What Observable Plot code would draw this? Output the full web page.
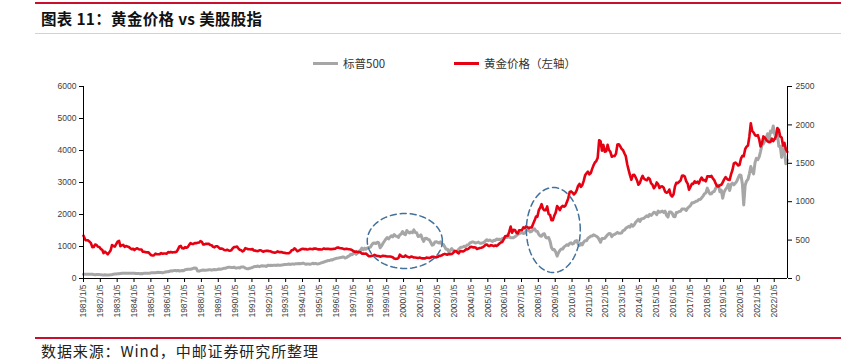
<!DOCTYPE html>
<html>
<head>
<meta charset="utf-8">
<script src="https://cdn.jsdelivr.net/npm/d3@7"></script>
<script src="https://cdn.jsdelivr.net/npm/@observablehq/plot@0.6"></script>
<style>
  html, body { margin: 0; padding: 0; background: #fff; }
  #wrap { position: relative; width: 841px; height: 363px; overflow: hidden; font-family: "Noto Sans CJK SC", "Noto Sans", sans-serif; }
  #chart { position: absolute; left: 0; top: 0; }
  .hline { position: absolute; left: 35px; right: 0; }
  #title { position: absolute; left: 41px; top: 8px; font-size: 15.5px; font-weight: bold; color: #111; line-height: 20px; white-space: nowrap; letter-spacing: 0.3px; }
  #source { position: absolute; left: 41px; top: 341px; font-size: 15px; color: #222; line-height: 20px; white-space: nowrap; letter-spacing: 0.9px; }
  .leg { position: absolute; top: 54px; font-size: 11.5px; color: #333; line-height: 18px; white-space: nowrap; display: flex; align-items: center; }
  .leg i { display: inline-block; width: 25px; height: 3px; margin-right: 5px; }
</style>
</head>
<body>
<div id="wrap">
  <div id="chart"></div>
  <div class="hline" style="top:2px;height:2px;background:#C8102E;"></div>
  <div id="title">图表 11：黄金价格 vs 美股股指</div>
  <div class="hline" style="top:33px;height:1px;background:#F2C4C4;"></div>
  <div class="leg" style="left:313px;"><i style="background:#A6A6A6"></i>标普500</div>
  <div class="leg" style="left:454px;"><i style="background:#E60012"></i>黄金价格（左轴）</div>
  <div class="hline" style="top:337px;height:2px;background:#C8102E;"></div>
  <div id="source">数据来源：Wind，中邮证券研究所整理</div>
</div>
<script>
// ---- data (monthly readings, 1981-01 .. 2022-10) ----
const years = d3.range(1981, 2023);

const spx = [
  [129.5,131.3,136.0,132.8,132.6,131.2,130.9,122.8,116.2,121.9,126.4,122.6],
  [120.4,113.1,111.9,116.4,111.9,109.6,107.1,119.5,120.4,133.7,138.5,140.6],
  [145.3,148.1,153.0,164.4,162.4,168.1,162.6,164.4,166.1,163.6,166.4,164.9],
  [163.4,157.1,159.2,160.1,150.6,153.2,150.7,166.7,166.1,166.1,163.6,167.2],
  [179.6,181.2,180.7,179.8,189.6,191.9,190.9,188.6,182.1,189.8,202.2,211.3],
  [211.8,226.9,238.9,235.5,247.4,250.8,236.1,252.9,231.3,244.0,249.2,242.2],
  [274.1,284.2,291.7,288.4,290.1,304.0,318.7,329.8,321.8,235.0,230.3,247.1],
  [257.1,267.8,258.9,261.3,262.2,273.5,272.0,261.5,271.9,279.0,273.7,277.7],
  [297.5,288.9,294.9,309.6,320.5,318.0,346.1,351.5,349.2,340.4,346.0,353.4],
  [329.1,331.9,339.9,330.8,361.2,358.0,356.2,322.6,306.1,304.0,322.2,330.2],
  [343.9,367.1,375.2,375.3,389.8,371.2,387.8,395.4,387.9,392.5,375.2,417.1],
  [408.8,412.7,403.7,415.0,415.4,408.1,424.2,414.0,417.8,418.7,431.4,435.7],
  [438.8,443.4,451.7,440.2,450.2,451.0,448.1,463.6,458.9,467.8,461.8,466.5],
  [481.6,467.1,445.8,450.9,456.5,444.3,458.3,475.5,462.7,472.4,453.7,459.3],
  [470.4,487.4,500.7,514.7,533.4,544.8,562.1,561.9,584.4,581.5,605.4,615.9],
  [636.0,640.4,645.5,654.2,669.1,670.6,640.0,652.0,687.3,705.3,757.0,740.7],
  [786.2,790.8,757.1,801.3,848.3,885.1,954.3,899.5,947.3,914.6,955.4,970.4],
  [980.3,1049.3,1101.8,1111.8,1090.8,1133.8,1120.7,957.3,1017.0,1098.7,1163.6,1229.2],
  [1279.6,1238.3,1286.4,1335.2,1301.8,1372.7,1328.7,1320.4,1282.7,1362.9,1388.9,1469.3],
  [1394.5,1366.4,1498.6,1452.4,1420.6,1454.6,1430.8,1517.7,1436.5,1429.4,1315.2,1320.3],
  [1366.0,1239.9,1160.3,1249.5,1255.8,1224.4,1211.2,1133.6,1040.9,1059.8,1139.5,1148.1],
  [1130.2,1106.7,1147.4,1076.9,1067.1,989.8,911.6,916.1,815.3,885.8,936.3,879.8],
  [855.7,841.2,848.2,916.9,963.6,974.5,990.3,1008.0,996.0,1050.7,1058.2,1111.9],
  [1131.1,1144.9,1126.2,1107.3,1120.7,1140.8,1101.7,1104.2,1114.6,1130.2,1173.8,1211.9],
  [1181.3,1203.6,1180.6,1156.9,1191.5,1191.3,1234.2,1220.3,1228.8,1207.0,1249.5,1248.3],
  [1280.1,1280.7,1294.9,1310.6,1270.1,1270.2,1276.7,1303.8,1335.9,1377.9,1400.6,1418.3],
  [1438.2,1406.8,1420.9,1482.4,1530.6,1503.4,1455.3,1474.0,1526.8,1549.4,1481.1,1468.4],
  [1378.6,1330.6,1322.7,1385.6,1400.4,1280.0,1267.4,1282.8,1166.4,968.8,896.2,903.3],
  [825.9,700.0,797.9,872.8,919.1,919.3,987.5,1020.6,1057.1,1036.2,1095.6,1115.1],
  [1073.9,1104.5,1169.4,1186.7,1089.4,1030.7,1101.6,1049.3,1141.2,1183.3,1180.6,1257.6],
  [1286.1,1327.2,1325.8,1363.6,1345.2,1320.6,1292.3,1218.9,1131.4,1253.3,1247.0,1257.6],
  [1312.4,1365.7,1408.5,1397.9,1310.3,1362.2,1379.3,1406.6,1440.7,1412.2,1416.2,1426.2],
  [1498.1,1514.7,1569.2,1597.6,1630.7,1606.3,1685.7,1633.0,1681.6,1756.5,1805.8,1848.4],
  [1782.6,1859.5,1872.3,1884.0,1923.6,1960.2,1930.7,2003.4,1972.3,2018.1,2067.6,2058.9],
  [1995.0,2104.5,2067.9,2085.5,2107.4,2063.1,2103.8,1972.2,1920.0,2079.4,2080.4,2043.9],
  [1940.2,1932.2,2059.7,2065.3,2097.0,2098.9,2173.6,2171.0,2168.3,2126.2,2198.8,2238.8],
  [2278.9,2363.6,2362.7,2384.2,2411.8,2423.4,2470.3,2471.7,2519.4,2575.3,2647.6,2673.6],
  [2823.8,2713.8,2640.9,2648.1,2705.3,2718.4,2816.3,2901.5,2914.0,2711.7,2760.2,2506.9],
  [2704.1,2784.5,2834.4,2945.8,2752.1,2941.8,2980.4,2926.5,2976.7,3037.6,3141.0,3230.8],
  [3225.5,2954.2,2300.0,2912.4,3044.3,3100.3,3271.1,3500.3,3363.0,3270.0,3621.6,3756.1],
  [3714.2,3811.2,3972.9,4181.2,4204.1,4297.5,4395.3,4522.7,4307.5,4605.4,4567.0,4766.2],
  [4515.6,4373.9,4530.4,4131.9,4132.2,3785.4,4130.3,3955.0,3585.6,3700.0]
];

const gold = [
  [557,500,499,496,480,460,409,410,443,437,413,410],
  [384,374,330,350,334,315,339,365,435,422,415,447],
  [481,491,420,432,438,413,423,416,411,394,381,388],
  [370,386,394,381,377,378,348,348,341,340,341,320],
  [303,299,304,324,316,316,317,330,323,326,325,322],
  [345,339,346,340,342,343,349,377,418,424,393,391],
  [408,401,409,438,460,450,450,461,460,465,468,487],
  [477,442,444,452,451,451,437,433,413,406,420,419],
  [404,388,390,384,371,367,375,365,362,367,394,409],
  [410,416,393,374,369,352,362,395,389,381,381,378],
  [384,364,363,358,357,367,368,356,349,358,360,361],
  [354,354,344,338,337,341,353,343,345,344,335,334],
  [329,329,330,342,367,372,392,378,355,364,374,383],
  [387,382,384,377,381,386,385,381,391,389,384,379],
  [379,377,382,391,385,387,386,383,383,383,386,387],
  [400,405,396,393,392,385,383,387,383,381,378,369],
  [355,346,352,344,344,341,324,324,323,325,306,289],
  [289,297,296,308,299,292,293,284,289,296,294,291],
  [287,287,286,282,277,261,256,257,265,311,293,283],
  [284,300,286,280,275,286,282,274,273,270,266,272],
  [266,262,263,261,272,270,268,273,283,283,276,275],
  [282,296,294,302,314,321,314,310,319,317,319,333],
  [357,359,340,328,355,356,351,360,379,379,389,407],
  [414,405,406,404,384,392,398,400,406,420,439,442],
  [424,424,434,429,422,431,424,437,456,470,476,510],
  [549,555,557,610,676,596,633,632,598,586,627,629],
  [631,665,655,679,667,655,665,665,712,754,806,803],
  [889,922,968,909,888,889,939,839,829,760,760,816],
  [858,943,924,890,928,946,934,949,996,1043,1127,1134],
  [1118,1095,1113,1148,1205,1232,1193,1215,1271,1343,1370,1391],
  [1356,1372,1424,1473,1510,1529,1572,1800,1790,1665,1739,1652],
  [1656,1742,1673,1650,1585,1596,1594,1626,1744,1747,1721,1688],
  [1671,1627,1593,1487,1414,1343,1286,1347,1349,1316,1275,1221],
  [1244,1300,1336,1299,1287,1279,1311,1296,1239,1222,1176,1200],
  [1251,1227,1178,1198,1199,1181,1131,1117,1125,1159,1086,1068],
  [1097,1200,1246,1242,1260,1276,1337,1340,1326,1266,1236,1157],
  [1192,1234,1231,1266,1246,1260,1236,1283,1315,1280,1283,1265],
  [1331,1331,1325,1335,1303,1282,1238,1202,1198,1215,1221,1250],
  [1291,1320,1300,1285,1283,1359,1413,1500,1510,1495,1471,1480],
  [1560,1598,1592,1683,1716,1732,1846,2020,1921,1901,1866,1858],
  [1867,1808,1718,1760,1850,1834,1807,1785,1775,1777,1821,1790],
  [1817,1855,1960,1937,1849,1836,1732,1765,1681,1650]
];

// axis tick values
const spxTicks = [0, 1000, 2000, 3000, 4000, 5000, 6000];
const goldTicks = [0, 500, 1000, 1500, 2000, 2500];
const xTickLabels = years.map(y => `${y}/1/5`);

// annotation ellipses (center date, center value on left axis, half-width in years, half-height)
const ellipseCenterDates = ["2000-02-01", "2008-11-25"];
const ellipseCenterValues = [1172, 1516];
const ellipseHalfYears = [2.23, 1.60];
const ellipseHalfValues = [859, 1328];

// ---- build tables ----
const spxMax = 6000, goldMax = 2500, ratio = spxMax / goldMax;
const rows = [];
years.forEach((y, i) => {
  spx[i].forEach((v, m) => rows.push({date: new Date(Date.UTC(y, m, m === 0 && i === 0 ? 5 : 15)), series: "spx", value: v}));
  gold[i].forEach((v, m) => rows.push({date: new Date(Date.UTC(y, m, m === 0 && i === 0 ? 5 : 15)), series: "gold", value: v * ratio}));
});
const xTicks = years.map(y => new Date(Date.UTC(y, 0, 5)));
const yearMs = 365.25 * 86400000;
const ell = [];
ellipseCenterDates.forEach((d, k) => {
  const c = new Date(d).getTime();
  for (let j = 0; j <= 96; j++) {
    const t = 2 * Math.PI * j / 96;
    ell.push({id: k, date: new Date(c + ellipseHalfYears[k] * yearMs * Math.cos(t)), value: ellipseCenterValues[k] + ellipseHalfValues[k] * Math.sin(t)});
  }
});
const xStart = new Date(Date.UTC(1981, 0, 5)), xEnd = new Date(Date.UTC(2022, 9, 20));

const chart = Plot.plot({
  width: 841,
  height: 363,
  marginTop: 86,
  marginBottom: 85,
  marginLeft: 83,
  marginRight: 54,
  x: {type: "utc", domain: [xStart, xEnd]},
  y: {domain: [0, spxMax]},
  style: {fontFamily: "'Liberation Sans', Arial, sans-serif", fontSize: "8.5px", color: "#404040", background: "transparent"},
  marks: [
    Plot.axisY({anchor: "left", ticks: spxTicks, tickSize: 4, tickPadding: 3, tickFormat: d => String(d), label: null, stroke: "#000"}),
    Plot.axisY({anchor: "right", ticks: goldTicks.map(v => v * ratio), tickSize: 4, tickPadding: 4, tickFormat: d => String(Math.round(d / ratio)), label: null, stroke: "#000"}),
    Plot.axisX({ticks: xTicks, tickFormat: (d, i) => xTickLabels[i], tickRotate: -90, tickSize: 4, tickPadding: 2, label: null, stroke: "#000"}),
    Plot.line(rows.filter(r => r.series === "spx"), {x: "date", y: "value", stroke: "#A6A6A6", strokeWidth: 3, strokeLinejoin: "round"}),
    Plot.line(rows.filter(r => r.series === "gold"), {x: "date", y: "value", stroke: "#E60012", strokeWidth: 2.6, strokeLinejoin: "round"}),
    Plot.line(ell, {x: "date", y: "value", z: "id", stroke: "#41719C", strokeWidth: 1.5, strokeDasharray: "6,4"}),
    Plot.ruleY([0], {stroke: "#000", strokeWidth: 1}),
    Plot.ruleX([xStart, xEnd], {y1: 0, y2: spxMax, stroke: "#000", strokeWidth: 1})
  ]
});
document.getElementById("chart").appendChild(chart);
</script>
</body>
</html>
